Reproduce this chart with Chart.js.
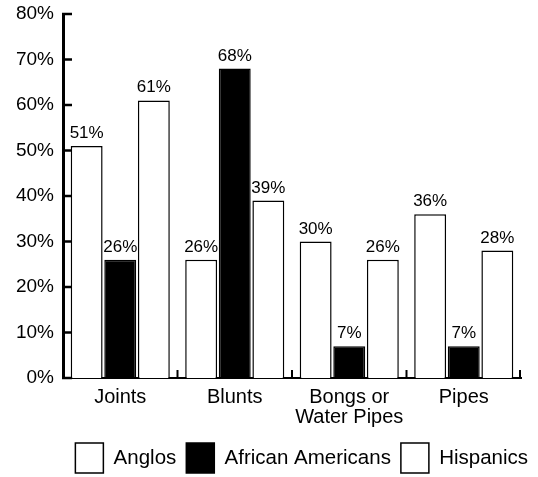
<!DOCTYPE html>
<html>
<head>
<meta charset="utf-8">
<script src="https://cdn.jsdelivr.net/npm/chart.js@4.4.1/dist/chart.umd.min.js"></script>
<style>
  html, body { margin: 0; padding: 0; background: #fff; }
  #wrap { width: 538px; height: 477px; }
</style>
</head>
<body>
<div id="wrap"><canvas id="usageChart"></canvas></div>
<script>
// categories and series
const categories = ['Joints', 'Blunts', ['Bongs or', 'Water Pipes'], 'Pipes'];
const anglos = [51, 26, 30, 36];
const africanAmericans = [26, 68, 7, 7];
const hispanics = [61, 39, 26, 28];
const yTicks = [0, 10, 20, 30, 40, 50, 60, 70, 80];

const FONT = '"Liberation Sans", Arial, Helvetica, sans-serif';

// percentage labels above each bar
const valueLabels = {
    id: 'valueLabels',
    afterDatasetsDraw(chart) {
        const ctx = chart.ctx;
        ctx.save();
        ctx.font = '17px ' + FONT;
        ctx.fillStyle = '#000';
        ctx.textAlign = 'center';
        ctx.textBaseline = 'alphabetic';
        chart.data.datasets.forEach((ds, i) => {
            chart.getDatasetMeta(i).data.forEach((bar, j) => {
                ctx.fillText(ds.data[j] + '%', bar.x, bar.y - 8);
            });
        });
        ctx.restore();
    }
};

// inward tick marks on both axes
const innerTicks = {
    id: 'innerTicks',
    afterDraw(chart) {
        const ctx = chart.ctx;
        const y = chart.scales.y, x = chart.scales.x;
        const area = chart.chartArea;
        ctx.save();
        ctx.strokeStyle = '#000';
        ctx.lineWidth = 2.5;
        yTicks.forEach(v => {
            const py = y.getPixelForValue(v);
            ctx.beginPath();
            ctx.moveTo(area.left - 1, py);
            ctx.lineTo(area.left + 9, py);
            ctx.stroke();
        });
        ctx.lineWidth = 2;
        for (let i = 1; i <= categories.length; i++) {
            const px = (x.getPixelForValue(i - 1) + x.getPixelForValue(i)) / 2;
            const bx = i === categories.length ? area.right - 1 : px;
            ctx.beginPath();
            ctx.moveTo(bx, area.bottom);
            ctx.lineTo(bx, area.bottom - 8);
            ctx.stroke();
        }
        ctx.restore();
    }
};

const ctx = document.getElementById('usageChart').getContext('2d');

const usageChart = new Chart(ctx, {
    type: 'bar',
    data: {
        labels: categories,
        datasets: [{
            label: 'Anglos',
            data: anglos,
            backgroundColor: '#fff',
            borderColor: '#000',
            borderWidth: 1.5
        }, {
            label: 'African Americans',
            data: africanAmericans,
            backgroundColor: '#000',
            borderColor: '#000',
            borderWidth: 1.5
        }, {
            label: 'Hispanics',
            data: hispanics,
            backgroundColor: '#fff',
            borderColor: '#000',
            borderWidth: 1.5
        }]
    },
    options: {
        responsive: true,
        maintainAspectRatio: false,
        animation: false,
        categoryPercentage: 0.88,
        barPercentage: 0.95,
        layout: {
            padding: { left: 0, right: 0, top: 14, bottom: -6 }
        },
        plugins: {
            legend: {
                position: 'bottom',
                align: 'end',
                labels: {
                    boxWidth: 28,
                    boxHeight: 30,
                    padding: 10,
                    color: '#000',
                    font: { family: FONT, size: 20.5 }
                }
            },
            title: { display: false },
            tooltip: { enabled: false }
        },
        scales: {
            x: {
                grid: { display: false },
                border: { color: '#000', width: 2 },
                ticks: {
                    color: '#000',
                    padding: 1,
                    maxRotation: 0,
                    font: { family: FONT, size: 20, lineHeight: 1.0 }
                },
                afterFit: s => { s.height = 55; }
            },
            y: {
                min: 0,
                max: 80,
                grid: { display: false },
                border: { color: '#000', width: 3 },
                ticks: {
                    stepSize: 10,
                    color: '#000',
                    padding: 1,
                    font: { family: FONT, size: 19 },
                    callback: v => v + '%'
                },
                afterFit: s => { s.width = 63; }
            },
            // empty strip on the right so the plot stops where the original does
            yRight: {
                position: 'right',
                display: true,
                grid: { display: false },
                border: { display: false },
                ticks: { display: false },
                afterFit: s => { s.width = 17; }
            }
        }
    },
    plugins: [valueLabels, innerTicks]
});
</script>
</body>
</html>
